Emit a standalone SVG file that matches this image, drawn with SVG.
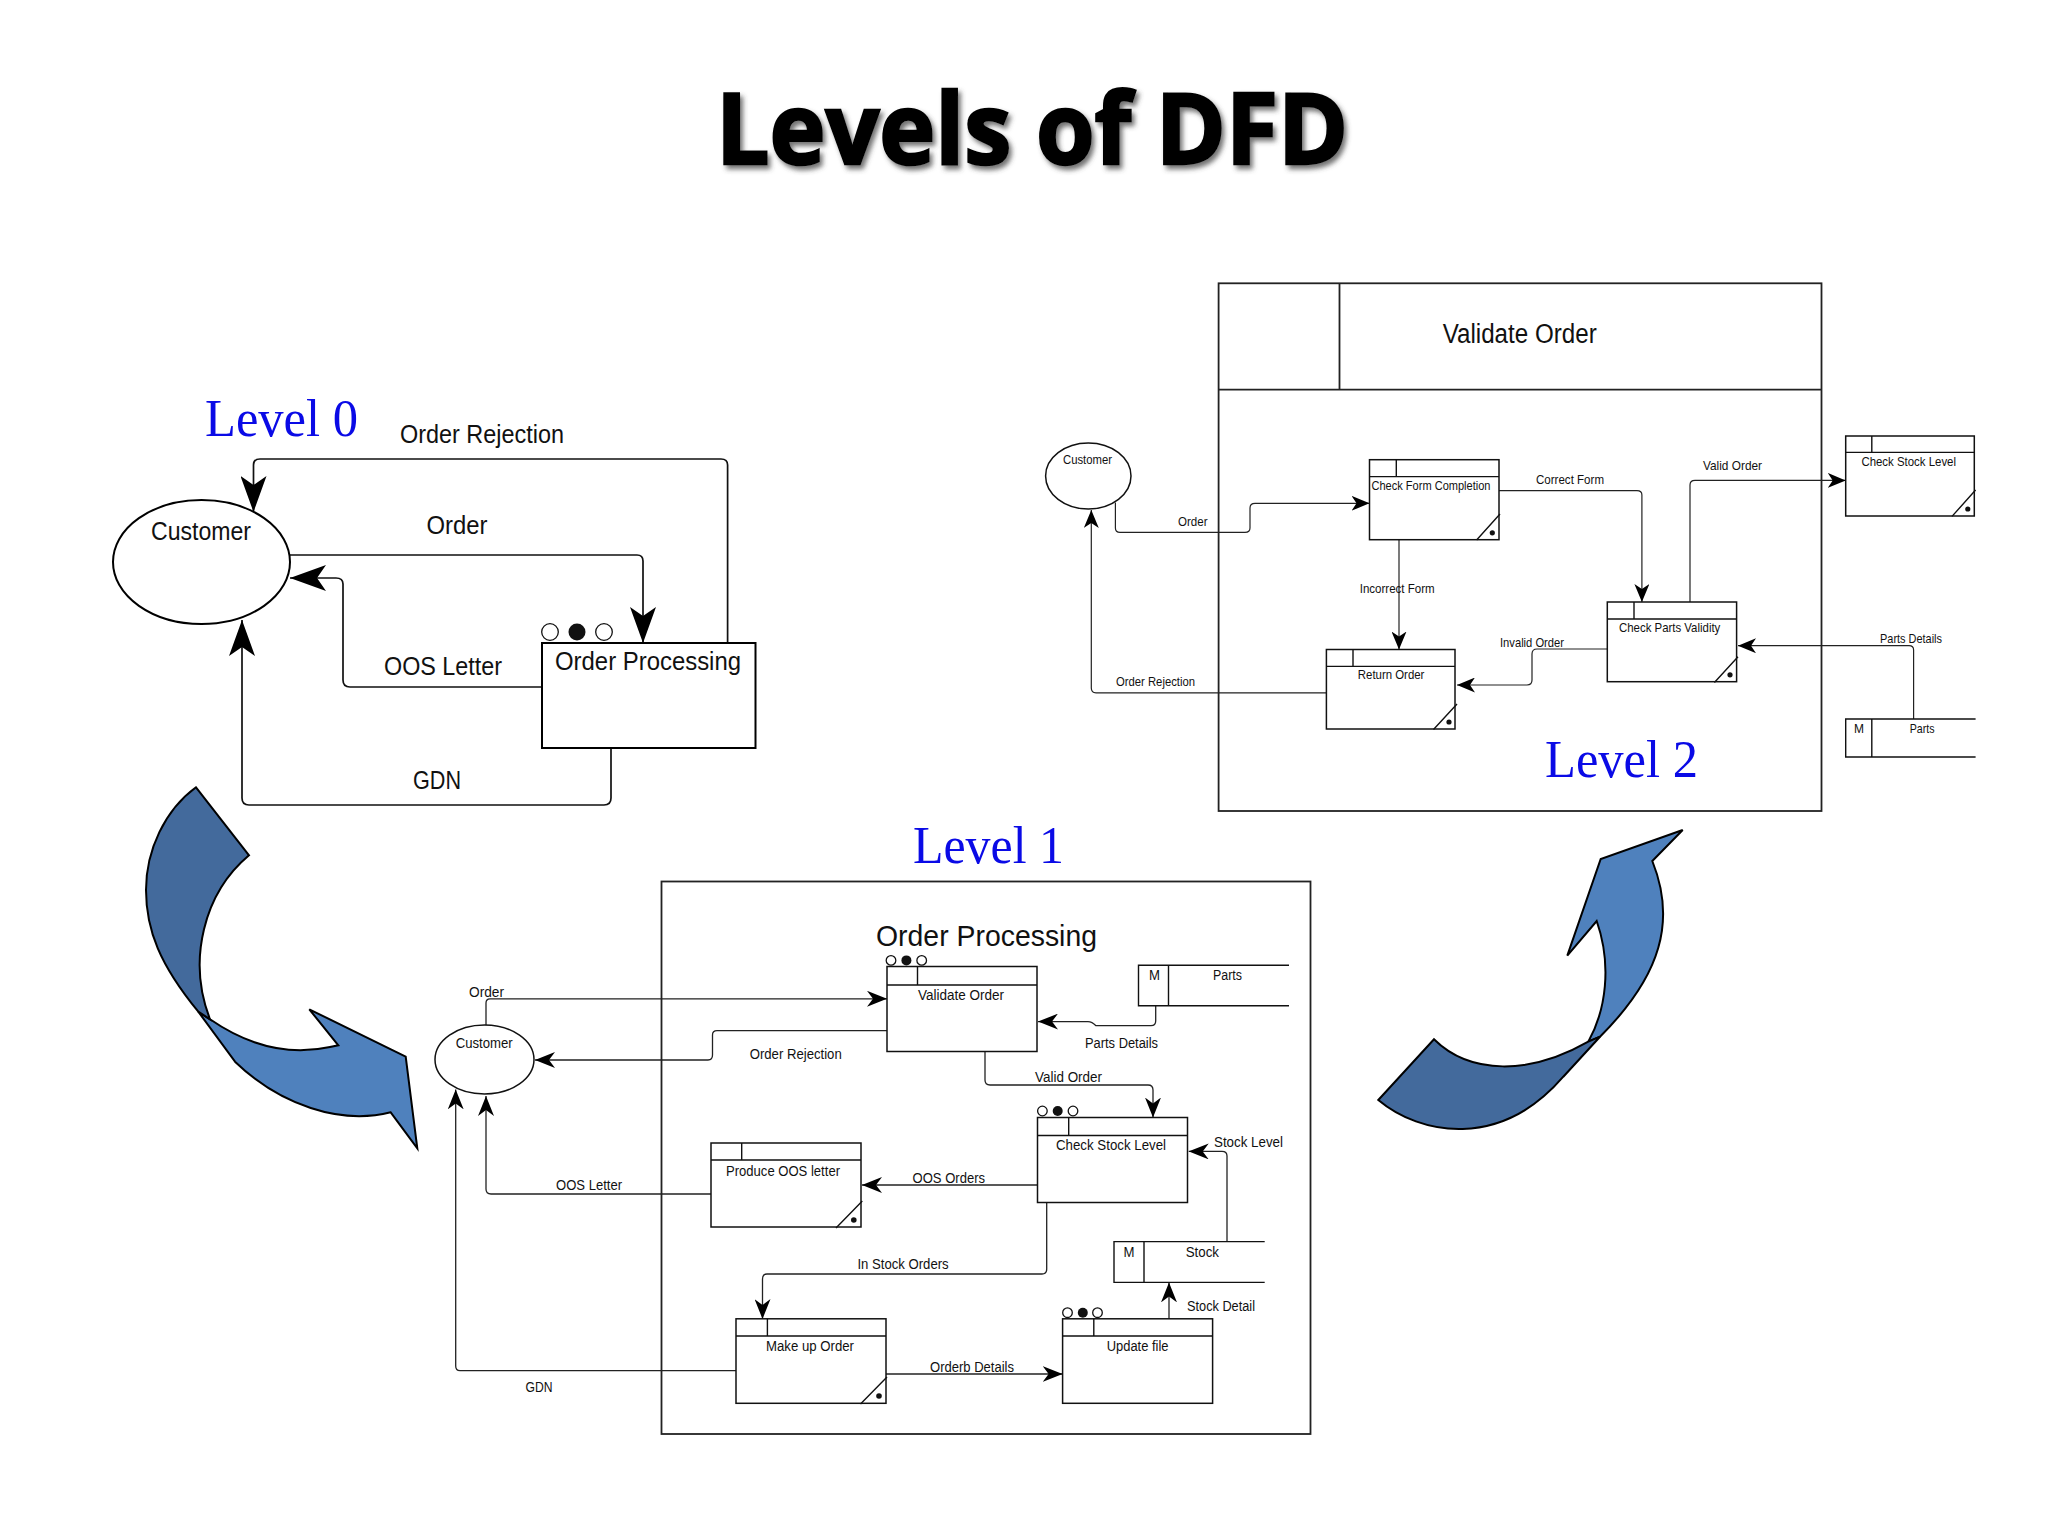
<svg xmlns="http://www.w3.org/2000/svg" width="2048" height="1536" viewBox="0 0 2048 1536">
<style>
text{font-family:"Liberation Sans",Arial,sans-serif;fill:#111}
.title{font-family:"Open Sans","Liberation Sans",sans-serif;font-weight:700;font-size:99px;fill:#000;stroke:#000;stroke-width:2.5px}
.lv{font-family:"Liberation Serif","Times New Roman",serif;font-size:52px;fill:#0a0ae6}
.f0{font-size:25px}.f1{font-size:14px}.f1b{font-size:30px}.f2{font-size:13px}.f2b{font-size:27px}
.b{fill:#fff;stroke:#111;stroke-width:1.5}
.b0{fill:#fff;stroke:#000;stroke-width:2}
.l{fill:none;stroke:#111;stroke-width:1.4}
.c0{fill:none;stroke:#111;stroke-width:1.7;marker-end:url(#a0)}
.c1{fill:none;stroke:#222;stroke-width:1.3;marker-end:url(#a1)}
.c2{fill:none;stroke:#222;stroke-width:1.2;marker-end:url(#a2)}
.frame{fill:none;stroke:#222;stroke-width:1.8}
.o{fill:#fff;stroke:#111;stroke-width:1.3}
.k{fill:#111}
.dark{fill:#436a9c;stroke:#000;stroke-width:2;stroke-linejoin:miter}
.light{fill:#4f81bd;stroke:#000;stroke-width:2;stroke-linejoin:miter}
</style>
<defs>
<marker id="a0" markerUnits="userSpaceOnUse" markerWidth="36" markerHeight="26" refX="36" refY="13" orient="auto" viewBox="0 0 36 26"><path d="M36,13L0,0L9,13L0,26Z" fill="#000"/></marker>
<marker id="a1" markerUnits="userSpaceOnUse" markerWidth="20" markerHeight="16" refX="20" refY="8" orient="auto" viewBox="0 0 20 16"><path d="M20,8L0,0L6,8L0,16Z" fill="#000"/></marker>
<marker id="a2" markerUnits="userSpaceOnUse" markerWidth="18" markerHeight="15" refX="18" refY="7.5" orient="auto" viewBox="0 0 18 15"><path d="M18,7.5L0,0L5,7.5L0,15Z" fill="#000"/></marker>
<filter id="sh" x="-5%" y="-20%" width="110%" height="140%"><feDropShadow dx="3" dy="4" stdDeviation="2.5" flood-color="#444" flood-opacity=".75"/></filter>
</defs>
<rect width="2048" height="1536" fill="#fff"/>

<text class="title" x="716" y="164" textLength="632" lengthAdjust="spacingAndGlyphs" filter="url(#sh)">Levels of DFD</text>

<g id="curved-arrow-left">
<path class="light" d="M198.3,1011.7L210,1019.3C240,1040 280,1058 330,1047L338.3,1045.3L309.3,1009.3L405.7,1056.7L417.3,1148.3L390.7,1112.3C340,1125 280,1105 235,1061.7Z"/>
<path class="dark" d="M196,787.3L249,855.3C204,893 187,960 210,1019.3L198.3,1011.7C160,965 146,930 146,890C146,850 165,810 196,787.3Z"/>
</g>
<g id="curved-arrow-right">
<path class="light" d="M1588.3,1041.7C1606,1010 1612,965 1596.7,921L1567.3,955.7L1600.7,859L1682.7,830L1652.3,861C1676,920 1662,975 1600,1036.7Z"/>
<path class="dark" d="M1378.3,1100L1434,1039.3C1470,1075 1530,1075 1588.3,1041.7L1600,1036.7L1563.3,1076.7C1500,1150 1420,1135 1378.3,1100Z"/>
</g>

<g id="connectors">
<!-- level 0 -->
<path class="c0" d="M727.6,643V465Q727.6,459 721,459H260Q253.5,459 253.5,465V512"/>
<path class="c0" d="M290,555H637Q643,555 643,561V643"/>
<path class="c0" d="M542,687H350Q343,687 343,680V584Q343,578 336,578H290"/>
<path class="c0" d="M611,748V798Q611,805 604,805H249Q242,805 242,798V620"/>
<!-- level 1 -->
<path class="c1" d="M486,1025V1003Q486,998.8 490,998.8H887"/>
<path class="c1" d="M887,1030.6H717Q712.5,1030.6 712.5,1035V1055Q712.5,1060 708,1060H535"/>
<path class="c1" d="M1155.7,1005.7V1021Q1155.7,1025.7 1151,1025.7H1096Q1092,1021.6 1088,1021.6H1038"/>
<path class="c1" d="M985,1051V1080Q985,1085 990,1085H1148Q1153,1085 1153,1090V1117.5"/>
<path class="c1" d="M1227,1241.6V1156Q1227,1151.4 1222,1151.4H1188.7"/>
<path class="c1" d="M1037.5,1185H862"/>
<path class="c1" d="M711,1194H491Q486,1194 486,1189V1096"/>
<path class="c1" d="M1046.7,1202.4V1269Q1046.7,1274 1042,1274H767Q762.5,1274 762.5,1279V1319"/>
<path class="c1" d="M1169,1319V1282.4"/>
<path class="c1" d="M886,1374H1062.6"/>
<path class="c1" d="M736,1370.6H460Q455.7,1370.6 455.7,1366V1089.4"/>
<!-- level 2 -->
<path class="c2" d="M1115.4,502.6V528Q1115.4,532.4 1120,532.4H1245Q1250,532.4 1250,528V508Q1250,503.3 1255,503.3H1369.5"/>
<path class="c2" d="M1499,490.7H1637Q1641.9,490.7 1641.9,495V602"/>
<path class="c2" d="M1690,602V485Q1690,480.4 1695,480.4H1845.7"/>
<path class="c2" d="M1399,539.7V649.5"/>
<path class="c2" d="M1607,649H1537Q1532,649 1532,654V680Q1532,685 1527,685H1457"/>
<path class="c2" d="M1326,692.8H1096Q1091.3,692.8 1091.3,688V510"/>
<path class="c2" d="M1913.6,719V650Q1913.6,645.7 1909,645.7H1738"/>
</g>

<g id="level-0-labels">
<text class="lv" x="205" y="436" textLength="153" lengthAdjust="spacingAndGlyphs">Level 0</text>
<text class="f0" x="400" y="443" textLength="164" lengthAdjust="spacingAndGlyphs">Order Rejection</text>
<text class="f0" x="426.5" y="534" textLength="61" lengthAdjust="spacingAndGlyphs">Order</text>
<text class="f0" x="384" y="675" textLength="118" lengthAdjust="spacingAndGlyphs">OOS Letter</text>
<text class="f0" x="413" y="789" textLength="48" lengthAdjust="spacingAndGlyphs">GDN</text>
</g>
<g id="l0-customer">
<ellipse class="b0" cx="201.5" cy="562" rx="88.5" ry="62"/>
<text class="f0" x="151" y="540" textLength="100" lengthAdjust="spacingAndGlyphs">Customer</text>
</g>
<g id="l0-order-processing">
<rect class="b0" x="542" y="643" width="213.5" height="105"/>
<circle class="o" cx="550" cy="632" r="8.3"/><circle class="k" cx="577" cy="632" r="8.5"/><circle class="o" cx="604" cy="632" r="8.3"/>
<text class="f0" x="555" y="670" textLength="186" lengthAdjust="spacingAndGlyphs">Order Processing</text>
</g>

<g id="level-1-frame">
<rect class="frame" x="661.5" y="881.5" width="649" height="552.5"/>
<text class="lv" x="913" y="863" textLength="151" lengthAdjust="spacingAndGlyphs">Level 1</text>
<text class="f1b" x="876" y="946" textLength="221" lengthAdjust="spacingAndGlyphs">Order Processing</text>
</g>
<g id="level-1-labels">
<text class="f1" x="469" y="997" textLength="35" lengthAdjust="spacingAndGlyphs">Order</text>
<text class="f1" x="749.7" y="1059" textLength="92" lengthAdjust="spacingAndGlyphs">Order Rejection</text>
<text class="f1" x="1085" y="1048" textLength="73" lengthAdjust="spacingAndGlyphs">Parts Details</text>
<text class="f1" x="1035" y="1082" textLength="67" lengthAdjust="spacingAndGlyphs">Valid Order</text>
<text class="f1" x="1214" y="1147" textLength="69" lengthAdjust="spacingAndGlyphs">Stock Level</text>
<text class="f1" x="912.6" y="1183" textLength="72.4" lengthAdjust="spacingAndGlyphs">OOS Orders</text>
<text class="f1" x="556" y="1190" textLength="66" lengthAdjust="spacingAndGlyphs">OOS Letter</text>
<text class="f1" x="857.4" y="1269" textLength="91.3" lengthAdjust="spacingAndGlyphs">In Stock Orders</text>
<text class="f1" x="1187" y="1310.6" textLength="68" lengthAdjust="spacingAndGlyphs">Stock Detail</text>
<text class="f1" x="930" y="1372" textLength="84" lengthAdjust="spacingAndGlyphs">Orderb Details</text>
<text class="f1" x="525.5" y="1392" textLength="27" lengthAdjust="spacingAndGlyphs">GDN</text>
</g>
<g id="l1-customer">
<ellipse class="b" cx="484.5" cy="1059.5" rx="49.5" ry="34.5"/>
<text class="f1" x="455.7" y="1048" textLength="57" lengthAdjust="spacingAndGlyphs">Customer</text>
</g>
<g id="l1-validate-order">
<rect class="b" x="887" y="966.5" width="150" height="85"/>
<path class="l" d="M887,985H1037M917.5,966.5V985"/>
<circle class="o" cx="891" cy="960.4" r="4.8"/><circle class="k" cx="906.4" cy="960.4" r="5"/><circle class="o" cx="921.7" cy="960.4" r="4.8"/>
<text class="f1" x="918" y="999.6" textLength="86" lengthAdjust="spacingAndGlyphs">Validate Order</text>
</g>
<g id="l1-parts-store">
<path class="l" d="M1289,965.3H1138.5V1005.7H1289M1168.5,965.3V1005.7"/>
<text class="f1" x="1149" y="980" textLength="11" lengthAdjust="spacingAndGlyphs">M</text>
<text class="f1" x="1213" y="980" textLength="29" lengthAdjust="spacingAndGlyphs">Parts</text>
</g>
<g id="l1-check-stock-level">
<rect class="b" x="1037.5" y="1117.5" width="150" height="85"/>
<path class="l" d="M1037.5,1135.5H1187.5M1068.7,1117.5V1135.5"/>
<circle class="o" cx="1042.4" cy="1111" r="4.8"/><circle class="k" cx="1057.7" cy="1111" r="5"/><circle class="o" cx="1073" cy="1111" r="4.8"/>
<text class="f1" x="1056" y="1150" textLength="110" lengthAdjust="spacingAndGlyphs">Check Stock Level</text>
</g>
<g id="l1-produce-oos-letter">
<rect class="b" x="711" y="1143" width="150" height="84"/>
<path class="l" d="M711,1160H861M741.7,1143V1160M836,1228L862.3,1201"/>
<circle class="k" cx="853.8" cy="1220" r="2.8"/>
<text class="f1" x="726" y="1175.5" textLength="114" lengthAdjust="spacingAndGlyphs">Produce OOS letter</text>
</g>
<g id="l1-stock-store">
<path class="l" d="M1264.7,1241.6H1114V1282.4H1264.7M1144,1241.6V1282.4"/>
<text class="f1" x="1123.5" y="1256.7" textLength="11" lengthAdjust="spacingAndGlyphs">M</text>
<text class="f1" x="1185.7" y="1256.7" textLength="33.3" lengthAdjust="spacingAndGlyphs">Stock</text>
</g>
<g id="l1-make-up-order">
<rect class="b" x="736" y="1318.8" width="150" height="84.5"/>
<path class="l" d="M736,1336H886M767.4,1318.8V1336M860.5,1404L887,1377"/>
<circle class="k" cx="879" cy="1396" r="2.8"/>
<text class="f1" x="766" y="1351.4" textLength="88" lengthAdjust="spacingAndGlyphs">Make up Order</text>
</g>
<g id="l1-update-file">
<rect class="b" x="1062.6" y="1318.8" width="150" height="84.5"/>
<path class="l" d="M1062.6,1336H1212.6M1093.8,1318.8V1336"/>
<circle class="o" cx="1067.5" cy="1312.7" r="4.8"/><circle class="k" cx="1082.8" cy="1312.7" r="5"/><circle class="o" cx="1097.5" cy="1312.7" r="4.8"/>
<text class="f1" x="1106.7" y="1351.4" textLength="61.8" lengthAdjust="spacingAndGlyphs">Update file</text>
</g>

<g id="level-2-frame">
<rect class="frame" x="1218.6" y="283.3" width="602.9" height="527.7"/>
<path class="frame" d="M1218.6,389.7H1821.5M1339.5,283.3V389.7"/>
<text class="f2b" x="1442.7" y="343" textLength="154" lengthAdjust="spacingAndGlyphs">Validate Order</text>
<text class="lv" x="1545" y="777" textLength="153" lengthAdjust="spacingAndGlyphs">Level 2</text>
</g>
<g id="level-2-labels">
<text class="f2" x="1178" y="526.3" textLength="29.5" lengthAdjust="spacingAndGlyphs">Order</text>
<text class="f2" x="1536" y="484" textLength="68" lengthAdjust="spacingAndGlyphs">Correct Form</text>
<text class="f2" x="1703" y="470.4" textLength="59" lengthAdjust="spacingAndGlyphs">Valid Order</text>
<text class="f2" x="1359.7" y="592.5" textLength="75" lengthAdjust="spacingAndGlyphs">Incorrect Form</text>
<text class="f2" x="1500" y="646.5" textLength="64" lengthAdjust="spacingAndGlyphs">Invalid Order</text>
<text class="f2" x="1116" y="685.5" textLength="79" lengthAdjust="spacingAndGlyphs">Order Rejection</text>
<text class="f2" x="1880" y="642.6" textLength="62" lengthAdjust="spacingAndGlyphs">Parts Details</text>
</g>
<g id="l2-customer">
<ellipse class="b" cx="1088.3" cy="476" rx="42.7" ry="33"/>
<text class="f2" x="1063" y="464.3" textLength="49" lengthAdjust="spacingAndGlyphs">Customer</text>
</g>
<g id="l2-check-form-completion">
<rect class="b" x="1369.5" y="459.7" width="129.5" height="80"/>
<path class="l" d="M1369.5,476.6H1499M1396.3,459.7V476.6M1476.6,540L1500,514"/>
<circle class="k" cx="1492.3" cy="532.8" r="2.6"/>
<text class="f2" x="1371.5" y="489.6" textLength="119" lengthAdjust="spacingAndGlyphs">Check Form Completion</text>
</g>
<g id="l2-check-stock-level">
<rect class="b" x="1845.7" y="436" width="128.6" height="80"/>
<path class="l" d="M1845.7,452.4H1974.3M1871.8,436V452.4M1952,516.4L1975.6,490"/>
<circle class="k" cx="1967.8" cy="509" r="2.6"/>
<text class="f2" x="1861.4" y="466.2" textLength="94.6" lengthAdjust="spacingAndGlyphs">Check Stock Level</text>
</g>
<g id="l2-check-parts-validity">
<rect class="b" x="1607.3" y="602" width="129.3" height="79.7"/>
<path class="l" d="M1607.3,619H1736.6M1634,602V619M1714.4,682.5L1738,656.8"/>
<circle class="k" cx="1730" cy="674.8" r="2.6"/>
<text class="f2" x="1619" y="632" textLength="101.3" lengthAdjust="spacingAndGlyphs">Check Parts Validity</text>
</g>
<g id="l2-return-order">
<rect class="b" x="1326.4" y="649.5" width="128.6" height="79.5"/>
<path class="l" d="M1326.4,666.4H1455M1353,649.5V666.4M1433.5,729.5L1457,704"/>
<circle class="k" cx="1449" cy="722" r="2.6"/>
<text class="f2" x="1357.8" y="679.4" textLength="66.6" lengthAdjust="spacingAndGlyphs">Return Order</text>
</g>
<g id="l2-parts-store">
<path class="l" d="M1975.6,719H1845.7V757H1975.6M1871.8,719V757"/>
<text class="f2" x="1854" y="733" textLength="10" lengthAdjust="spacingAndGlyphs">M</text>
<text class="f2" x="1909.7" y="733" textLength="24.8" lengthAdjust="spacingAndGlyphs">Parts</text>
</g>
</svg>
